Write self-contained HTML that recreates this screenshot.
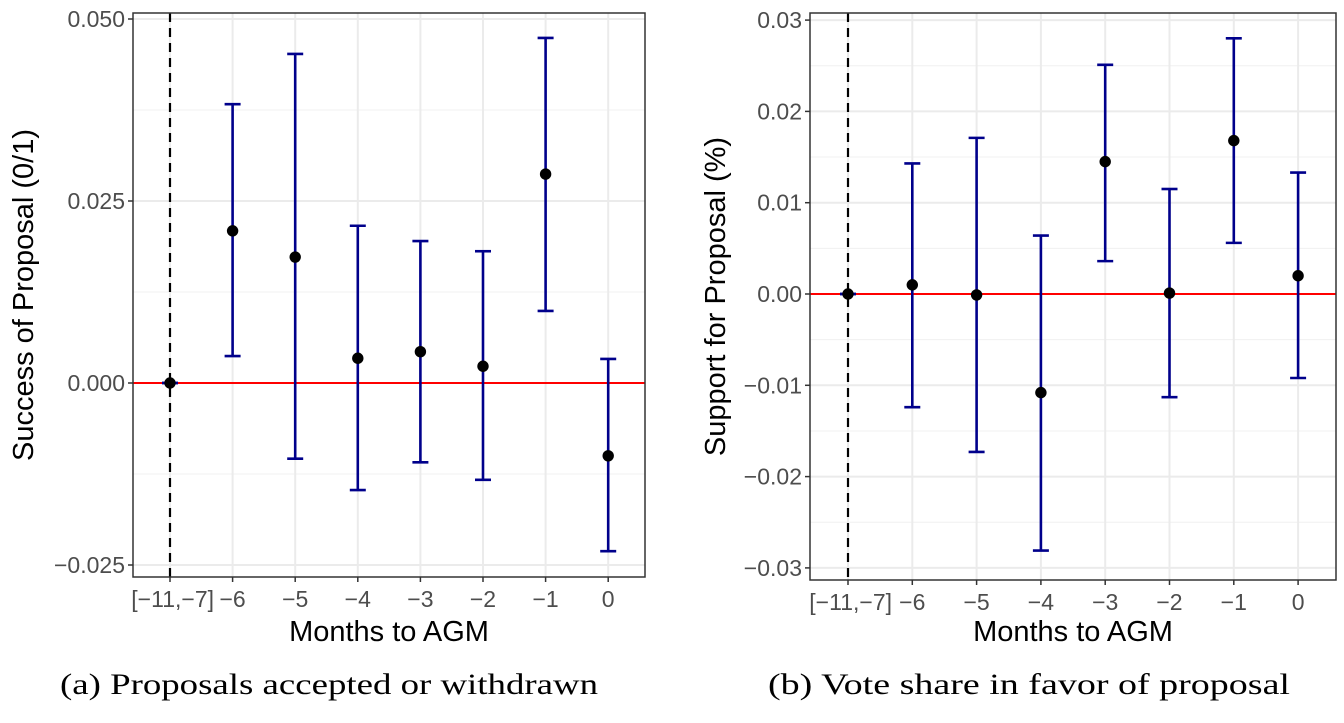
<!DOCTYPE html>
<html><head><meta charset="utf-8"><style>
body{margin:0;background:#fff;width:1344px;height:723px;overflow:hidden}
svg{display:block}
</style></head><body>
<svg id="fig" width="1344" height="723" xmlns="http://www.w3.org/2000/svg"></svg>
<script>
const categories = ["[\u221211,\u22127]","\u22126","\u22125","\u22124","\u22123","\u22122","\u22121","0"];
const leftEst = [0, 0.0209, 0.0173, 0.0034, 0.0043, 0.0023, 0.0287, -0.0100];
const leftLo  = [0, 0.0037, -0.0104, -0.0147, -0.0109, -0.0133, 0.0099, -0.0231];
const leftHi  = [0, 0.0383, 0.0452, 0.0216, 0.0195, 0.0181, 0.0474, 0.0033];
const leftTicks = [0.05, 0.025, 0, -0.025];
const leftTickLabels = ["0.050","0.025","0.000","\u22120.025"];
const rightEst = [0, 0.0010, -0.0001, -0.0108, 0.0145, 0.0001, 0.0168, 0.0020];
const rightLo  = [0, -0.0124, -0.0173, -0.0281, 0.0036, -0.0113, 0.0056, -0.0092];
const rightHi  = [0, 0.0143, 0.0171, 0.0064, 0.0251, 0.0115, 0.0280, 0.0133];
const rightTicks = [0.03, 0.02, 0.01, 0, -0.01, -0.02, -0.03];
const rightTickLabels = ["0.03","0.02","0.01","0.00","\u22120.01","\u22120.02","\u22120.03"];

const NS="http://www.w3.org/2000/svg";
const svg=document.getElementById('fig');
function mk(tag,attrs,parent,text){const e=document.createElementNS(NS,tag);for(const k in attrs)e.setAttribute(k,attrs[k]);if(text!==undefined)e.textContent=text;(parent||svg).appendChild(e);return e;}

function panel(cfg){
  const g=mk('g',{});
  
  
  const {x0,x1,y0,y1}=cfg.box;
  const xs=i=>cfg.cx0+i*cfg.dx;
  const ys=v=>cfg.yz-(v/cfg.step)*cfg.pxStep;
  mk('rect',{x:x0,y:y0,width:x1-x0,height:y1-y0,fill:'#fff'},g);
  for(let i=0;i<cfg.ticks.length-1;i++){
    const m=(cfg.ticks[i]+cfg.ticks[i+1])/2;
    const l=mk('line',{x1:x0,x2:x1,y1:ys(m),y2:ys(m),stroke:'#f0f0f0','stroke-width':1},g);
    
    
  }
  cfg.ticks.forEach((t,i)=>{
    const l=mk('line',{x1:x0,x2:x1,y1:ys(t),y2:ys(t),stroke:'#ebebeb','stroke-width':2},g);
    
    
    mk('line',{x1:x0-5,x2:x0,y1:ys(t),y2:ys(t),stroke:'#333','stroke-width':1.5},g);
    const tx=mk('text',{x:x0-8,y:ys(t)+8,'text-anchor':'end','font-family':'Liberation Sans, sans-serif','font-size':23,fill:'#4d4d4d'},g,cfg.tickLabels[i]);
    
    
  });
  categories.forEach((c,i)=>{
    const l=mk('line',{x1:xs(i),x2:xs(i),y1:y0,y2:y1,stroke:'#ebebeb','stroke-width':2},g);
    
    
    mk('line',{x1:xs(i),x2:xs(i),y1:y1,y2:y1+5,stroke:'#333','stroke-width':1.5},g);
    const anchor=i===0?'end':'middle';
    const tx=mk('text',{x:i===0?xs(i)+44:xs(i),y:y1+30,'text-anchor':anchor,'font-family':'Liberation Sans, sans-serif','font-size':23,fill:'#4d4d4d'},g,c);
    
    
  });
  const zl=mk('line',{x1:x0,x2:x1,y1:ys(0),y2:ys(0),stroke:'#ff0000','stroke-width':2},g);
  
  
  const dl=mk('line',{x1:xs(0),x2:xs(0),y1:y0,y2:y1,stroke:'#000','stroke-width':2.2,'stroke-dasharray':'9,6'},g);
  
  
  cfg.est.forEach((v,i)=>{
    const eb=mk('g',{},g);
    
    
    const st={stroke:'#00008b','stroke-width':2.6};
    mk('line',Object.assign({x1:xs(i),x2:xs(i),y1:ys(cfg.lo[i]),y2:ys(cfg.hi[i])},st),eb);
    mk('line',Object.assign({x1:xs(i)-8,x2:xs(i)+8,y1:ys(cfg.lo[i]),y2:ys(cfg.lo[i])},st),eb);
    mk('line',Object.assign({x1:xs(i)-8,x2:xs(i)+8,y1:ys(cfg.hi[i]),y2:ys(cfg.hi[i])},st),eb);
    const p=mk('circle',{cx:xs(i),cy:ys(v),r:5.7,fill:'#000'},g);
    
    
  });
  mk('rect',{x:x0,y:y0,width:x1-x0,height:y1-y0,fill:'none',stroke:'#333','stroke-width':1.5},g);
  const yt=mk('text',{x:0,y:0,transform:`translate(${cfg.yTitleX},${(y0+y1)/2}) rotate(-90)`,'text-anchor':'middle','font-family':'Liberation Sans, sans-serif','font-size':29,fill:'#000'},g,cfg.yTitle);
  
  
  const xt=mk('text',{x:(x0+x1)/2,y:641,'text-anchor':'middle','font-family':'Liberation Sans, sans-serif','font-size':29,fill:'#000'},g,'Months to AGM');
  
  
  const cap=mk('text',{x:cfg.capX,y:694,'text-anchor':'middle','font-family':'Liberation Serif, serif','font-size':30,fill:'#000',textLength:cfg.capW,lengthAdjust:'spacingAndGlyphs'},g,cfg.caption);
  
  
}

panel({name:'panel-a',box:{x0:133,x1:645,y0:13,y1:577},cx0:170,dx:62.6,yz:383,step:0.025,pxStep:182,
  ticks:leftTicks,tickLabels:leftTickLabels,est:leftEst,lo:leftLo,hi:leftHi,
  yTitle:'Success of Proposal (0/1)',yTitleX:33,caption:'(a) Proposals accepted or withdrawn',capX:329,capW:538});
panel({name:'panel-b',box:{x0:810,x1:1336,y0:13,y1:580},cx0:848,dx:64.3,yz:294,step:0.01,pxStep:91.3,
  ticks:rightTicks,tickLabels:rightTickLabels,est:rightEst,lo:rightLo,hi:rightHi,
  yTitle:'Support for Proposal (%)',yTitleX:725,caption:'(b) Vote share in favor of proposal',capX:1029,capW:522});
</script>
</body></html>
